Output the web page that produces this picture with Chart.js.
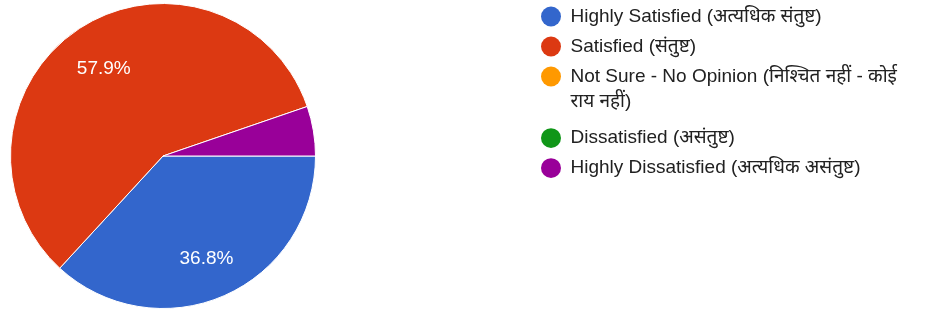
<!DOCTYPE html>
<html>
<head>
<meta charset="utf-8">
<script src="https://cdn.jsdelivr.net/npm/chart.js@4"></script>
<style>
  html, body { margin: 0; padding: 0; background: #ffffff; }
  #wrap { width: 931px; height: 311px; }
</style>
</head>
<body>
<div id="wrap"><canvas id="c" width="931" height="311"></canvas></div>
<script>
const categories = [
  "Highly Satisfied (अत्यधिक संतुष्ट)",
  "Satisfied (संतुष्ट)",
  ["Not Sure - No Opinion (निश्चित नहीं - कोई", "राय नहीं)"],
  "Dissatisfied (असंतुष्ट)",
  "Highly Dissatisfied (अत्यधिक असंतुष्ट)"
];
const responses = [7, 11, 0, 0, 1];
const sliceColors = ["#3366CC", "#DC3912", "#FF9900", "#109618", "#990099"];

const FONT = "'Liberation Sans', Arial, 'Noto Sans', sans-serif";

const pieArea = {
  id: 'pieArea',
  afterLayout(chart) {
    const a = chart.chartArea;
    a.left = 10; a.top = 3; a.right = 316; a.bottom = 309;
    a.width = a.right - a.left; a.height = a.bottom - a.top;
    const L = chart.legend;
    const w = L.width;
    L.left = 530; L.right = L.left + w;
  }
};

const pctLabels = {
  id: 'pctLabels',
  afterDatasetsDraw(chart) {
    const ctx = chart.ctx;
    const meta = chart.getDatasetMeta(0);
    const data = chart.data.datasets[0].data;
    const total = data.reduce((s, v) => s + v, 0);
    ctx.save();
    ctx.fillStyle = '#ffffff';
    ctx.font = '19px ' + FONT;
    ctx.textAlign = 'center';
    ctx.textBaseline = 'middle';
    meta.data.forEach((arc, i) => {
      const v = data[i];
      const pct = v / total * 100;
      if (pct < 10) return;
      const mid = (arc.startAngle + arc.endAngle) / 2;
      const r = arc.outerRadius * 0.71;
      ctx.fillText(pct.toFixed(1) + '%', arc.x + Math.cos(mid) * r, arc.y + Math.sin(mid) * r + 3.5);
    });
    ctx.restore();
  }
};

new Chart(document.getElementById('c'), {
  type: 'pie',
  data: {
    labels: categories,
    datasets: [{
      data: responses,
      backgroundColor: sliceColors,
      borderColor: '#ffffff',
      borderWidth: 1
    }]
  },
  options: {
    responsive: false,
    animation: false,
    rotation: 90,
    layout: { padding: { top: -4 } },
    plugins: {
      tooltip: { enabled: false },
      legend: {
        position: 'right',
        align: 'start',
        labels: {
          usePointStyle: true,
          pointStyle: 'circle',
          pointStyleWidth: 20,
          boxHeight: 14,
          padding: 11,
          color: '#212121',
          font: { family: FONT, size: 19, lineHeight: 1.33 },
          generateLabels(chart) {
            return chart.data.labels.map((text, i) => ({
              text,
              fillStyle: sliceColors[i],
              strokeStyle: sliceColors[i],
              lineWidth: 0,
              fontColor: '#212121',
              hidden: false,
              index: i,
              pointStyle: 'circle'
            }));
          }
        }
      }
    }
  },
  plugins: [pieArea, pctLabels]
});
</script>
</body>
</html>
